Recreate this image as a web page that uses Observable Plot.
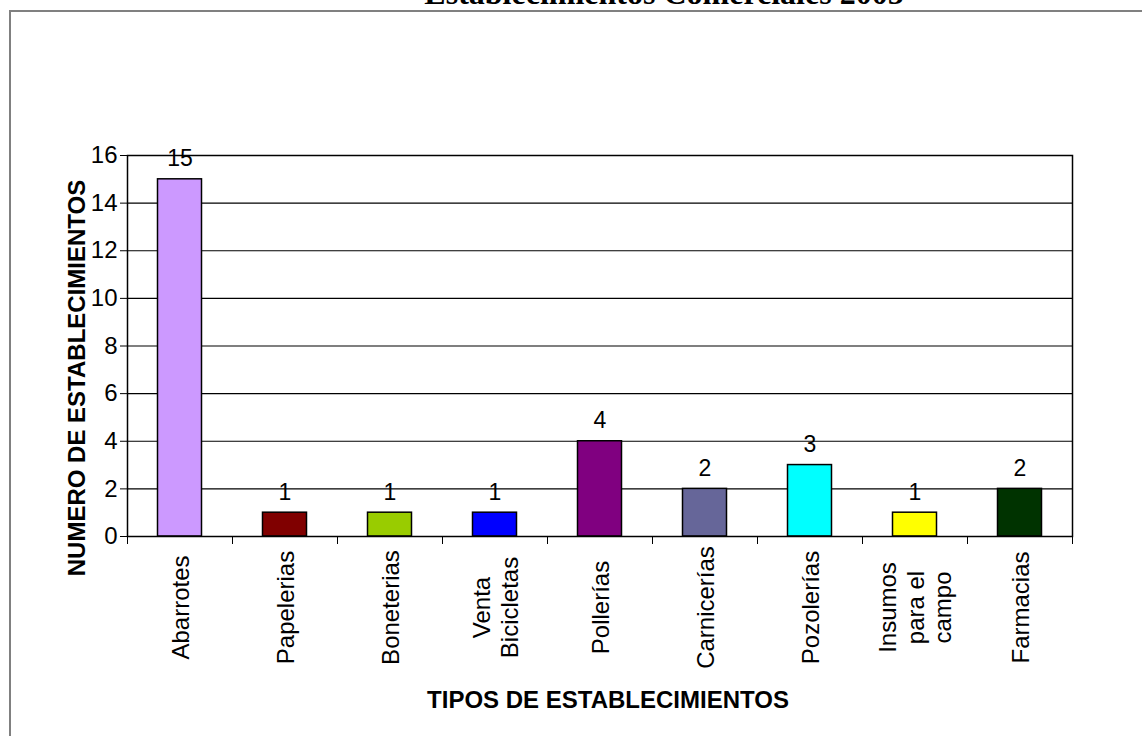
<!DOCTYPE html>
<html>
<head>
<meta charset="utf-8">
<script src="https://cdn.jsdelivr.net/npm/d3@7"></script>
<script src="https://cdn.jsdelivr.net/npm/@observablehq/plot@0.6"></script>
<style>
  html, body { margin: 0; padding: 0; background: #fff; overflow: hidden; }
  #wrap { position: relative; width: 1142px; height: 736px; overflow: hidden; background: #fff; }
  #border { position: absolute; left: 9px; top: 10px; width: 1300px; height: 900px;
            border-top: 2px solid #808080; border-left: 2px solid #808080; }
  #title { position: absolute; left: 264px; width: 800px; top: -23px; text-align: center;
           font-family: "Liberation Serif", "Times New Roman", serif; font-weight: bold;
           font-size: 32px; line-height: 32px; color: #000; white-space: nowrap; }
  #chart { position: absolute; left: 0; top: 0; }
</style>
</head>
<body>
<div id="wrap">
  <div id="border"></div>
  <div id="chart"></div>
  <div id="title">Establecimientos Comerciales 2005</div>
</div>
<script>
const categories = ["Abarrotes", "Papelerias", "Boneterias", "Venta\nBicicletas", "Pollerías", "Carnicerías", "Pozolerías", "Insumos\npara el\ncampo", "Farmacias"];
const values = [15, 1, 1, 1, 4, 2, 3, 1, 2];
const colors = ["#CC99FF", "#800000", "#99CC00", "#0000FF", "#800080", "#666699", "#00FFFF", "#FFFF00", "#003300"];
const yTicks = [0, 2, 4, 6, 8, 10, 12, 14, 16];
const yTitle = "NUMERO DE ESTABLECIMIENTOS";
const xTitle = "TIPOS DE ESTABLECIMIENTOS";

const data = categories.map((c, i) => ({i, name: c, value: values[i], color: colors[i]}));
const n = categories.length;

const chart = Plot.plot({
  width: 1142,
  height: 736,
  marginLeft: 127,
  marginRight: 70,
  marginTop: 155,
  marginBottom: 200,
  style: {fontFamily: "'Liberation Sans', Arial, sans-serif", fontSize: "24px", color: "#000", background: "transparent", overflow: "visible"},
  x: {type: "linear", domain: [0, n], axis: null},
  y: {domain: [0, 16], axis: null},
  marks: [
    Plot.ruleY(yTicks.filter(t => t > 0 && t < 16), {stroke: "#000", strokeWidth: 1.2}),
    Plot.rectY(data, {x1: d => d.i, x2: d => d.i + 1, y: "value", fill: d => d.color,
                      stroke: "#000", strokeWidth: 1.5, insetLeft: 30.5, insetRight: 30.5}),
    Plot.frame({stroke: "#000", strokeWidth: 1.5}),
    Plot.axisY({ticks: yTicks, tickSize: 7, tickPadding: 3, fontSize: 24, label: null, stroke: "#000"}),
    Plot.axisX({ticks: d3.range(n + 1), tickFormat: () => "", tickSize: 8, label: null, stroke: "#000"}),
    Plot.text(data, {x: d => d.i + 0.5, y: "value", text: d => String(d.value), dy: -13,
                     lineAnchor: "bottom", fontSize: 23, fill: "#000"}),
    Plot.text(data, {x: d => d.i + 0.5, text: "name", frameAnchor: "bottom", dy: 71, rotate: -90,
                     textAnchor: "middle", lineAnchor: "middle", lineHeight: 1.15, fontSize: 24, fill: "#000"}),
    Plot.text([yTitle], {text: d => d, frameAnchor: "left", dx: -50, dy: 32, rotate: -90,
                         textAnchor: "middle", lineAnchor: "middle", fontWeight: "bold", fontSize: 24, fill: "#000"}),
    Plot.text([xTitle], {text: d => d, frameAnchor: "bottom", dx: 8, dy: 164,
                         textAnchor: "middle", lineAnchor: "middle", fontWeight: "bold", fontSize: 24, fill: "#000"})
  ]
});
document.getElementById("chart").appendChild(chart);
</script>
</body>
</html>
